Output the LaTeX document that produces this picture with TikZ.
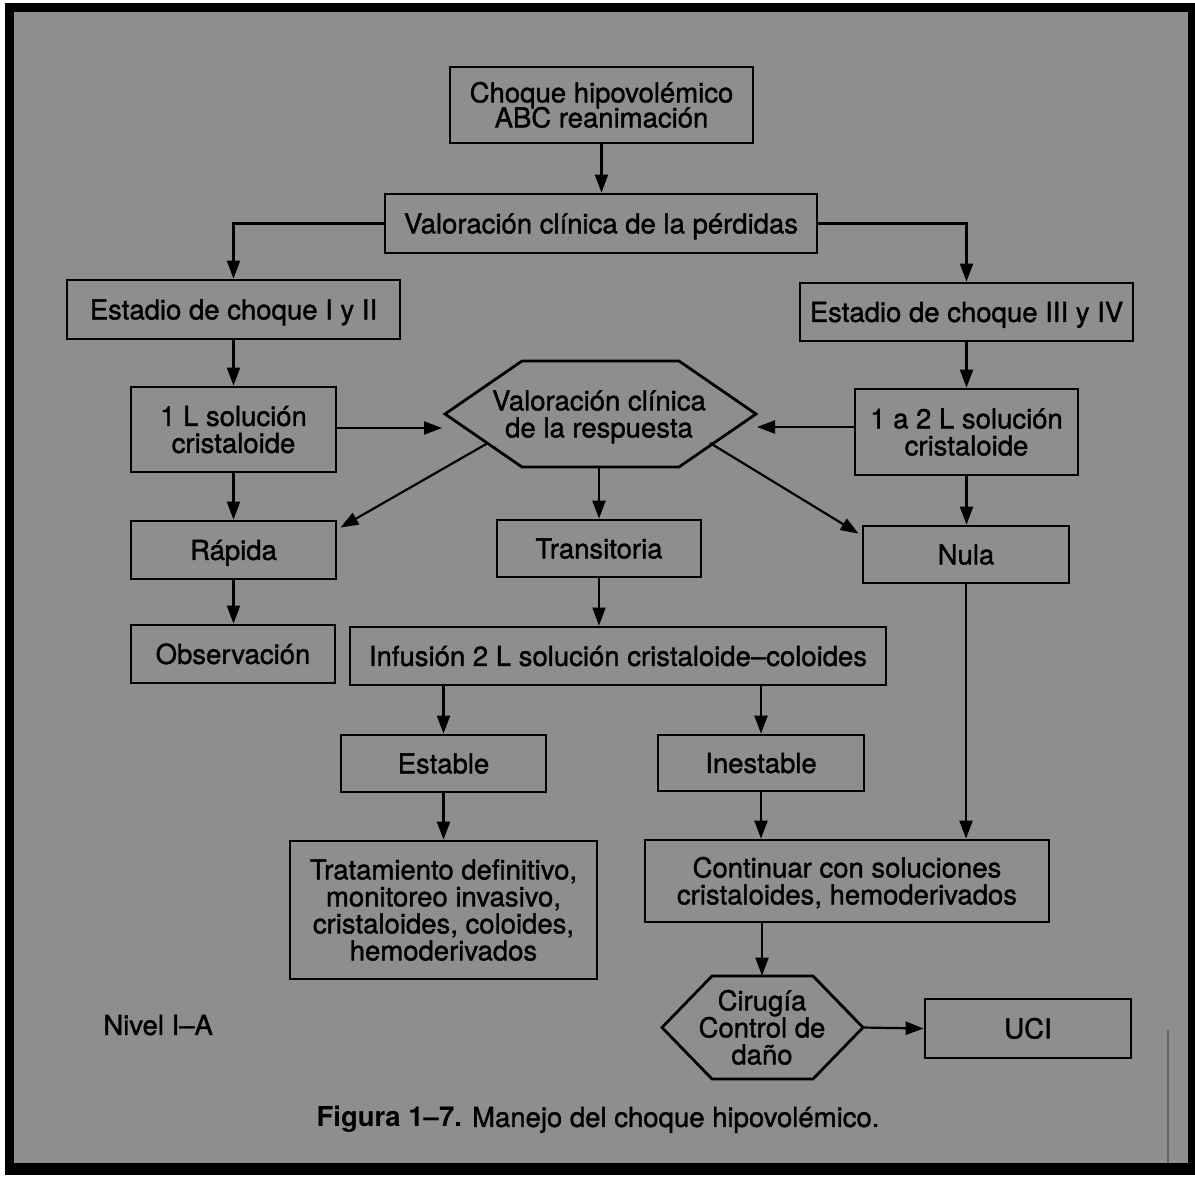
\documentclass[tikz,border=0pt]{standalone}
\usepackage{fontspec}
\setmainfont{TeX Gyre Heros}[UprightFeatures={FakeBold=1.3}]
\usetikzlibrary{arrows.meta}
\definecolor{paper}{RGB}{142,142,142}
\definecolor{edge}{RGB}{100,100,100}
\begin{document}
\begin{tikzpicture}[x=0.5pt,y=-0.5pt,
  every node/.style={font={\fontsize{13.75pt}{13.5pt}\selectfont\lineskiplimit=-20pt},
                     inner sep=0pt, text=black},
  box/.style={draw, line width=1.4pt, align=center},
  label/.style={align=center},
  single/.style={text height=9.9pt, text depth=0pt},
  twolines/.style={text height=23.4pt, text depth=0pt},
  threelines/.style={text height=36.9pt, text depth=0pt},
  fourlines/.style={text height=50.4pt, text depth=0pt},
  hexline/.style={line width=1.4pt, line join=miter},
  arr/.style={-{Triangle[length=9pt,width=6.5pt]}, line width=1.1pt},
  link/.style={line width=1.1pt}
]
% page, frame and background
\useasboundingbox (0,0) rectangle (1195,1177);
\fill[white] (0,0) rectangle (1195,1177);
\fill[black] (5,3) rectangle (1195,1175);
\fill[paper] (14,12) rectangle (1188,1163);
\draw[edge, line width=0.6pt] (1168,1030) -- (1168,1163);

% boxes
\node[box, text height=22.4pt, text depth=0pt, minimum width=151.5pt, minimum height=38pt,
      font={\fontsize{13.75pt}{12.5pt}\selectfont\lineskiplimit=-20pt}] (choque) at (601.5,105)
  {Choque hipovolémico\\ABC reanimación};
\node[box, single, minimum width=216pt, minimum height=29.5pt] (perd) at (601,223.5)
  {Valoración clínica de la pérdidas};
\node[box, single, minimum width=166.5pt, minimum height=29.5pt] (est12) at (233.5,309.5)
  {Estadio de choque I y II};
\node[box, single, minimum width=166.5pt, minimum height=29pt] (est34) at (966.5,312)
  {Estadio de choque III y IV};
\node[box, twolines, minimum width=102.5pt, minimum height=42.5pt] (uno) at (233.5,429.5)
  {1 L solución\\cristaloide};
\node[label, twolines, minimum width=154pt, minimum height=53pt] (resp) at (599,414)
  {Valoración clínica\\de la respuesta};
\draw[hexline] (resp.center) ++(-154,0) -- ++(77,-53) -- ++(157,0) -- ++(77,53)
  -- ++(-77,53) -- ++(-157,0) -- cycle;
\node[box, twolines, minimum width=111.5pt, minimum height=43pt] (dos) at (966.5,432)
  {1 a 2 L solución\\cristaloide};
\node[box, single, minimum width=102.5pt, minimum height=29pt] (rap) at (233.5,550) {Rápida};
\node[box, single, minimum width=102pt, minimum height=28.5pt] (trans) at (599,548.5) {Transitoria};
\node[box, single, minimum width=103pt, minimum height=28.5pt] (nula) at (966,554.5) {Nula};
\node[box, single, minimum width=102pt, minimum height=29pt] (obs) at (233,654) {Observación};
\node[box, single, minimum width=268pt, minimum height=29pt] (inf) at (618,656)
  {Infusión 2 L solución cristaloide–coloides};
\node[box, single, minimum width=102.5pt, minimum height=28.5pt] (estab) at (443.5,763.5) {Estable};
\node[box, single, minimum width=103pt, minimum height=28pt] (inest) at (761,763) {Inestable};
\node[box, fourlines, minimum width=153.5pt, minimum height=69pt] (trat) at (443.5,910)
  {Tratamiento definitivo,\\monitoreo invasivo,\\cristaloides, coloides,\\hemoderivados};
\node[box, twolines, minimum width=202pt, minimum height=41pt] (cont) at (847,881)
  {Continuar con soluciones\\cristaloides, hemoderivados};
\node[label, threelines, minimum width=100pt, minimum height=51.5pt] (cir) at (762,1027.5)
  {Cirugía\\Control de\\daño};
\draw[hexline] (cir.center) ++(-100,0) -- ++(50,-51.5) -- ++(101,0) -- ++(50,51.5)
  -- ++(-50,51.5) -- ++(-101,0) -- cycle;
\node[box, single, minimum width=103pt, minimum height=29.5pt] (uci) at (1028,1028.5) {UCI};

% free texts
\node[single, anchor=west] (nivel) at (103,1025) {Nivel I–A};
\node[single] (caption) at (598,1117) {\textbf{Figura 1–7.} Manejo del choque hipovolémico.};

% arrow ends near the response hexagon
\coordinate (respW) at (442,428);
\coordinate (respE) at (757,427);
\coordinate (respSW) at (488,443);
\coordinate (respSE) at (710,443);

% connectors
\draw[arr] (choque.south) -- (choque.south |- perd.north);
\draw[arr] (perd.west) -| (est12.north);
\draw[arr] (perd.east) -| (est34.north);
\draw[arr] (est12.south) -- (uno.north);
\draw[arr] (est34.south) -- (dos.north);
\draw[arr] (uno.east |- respW) -- (respW);
\draw[arr] (dos.west |- respE) -- (respE);
\draw[arr] (uno.south) -- (rap.north);
\draw[arr] (respSW) -- ([shift={(3,8)}]rap.north east);
\draw[arr] (resp.south) -- (trans.north);
\draw[arr] (respSE) -- ([shift={(-3,9)}]nula.north west);
\draw[arr] (dos.south) -- (dos.south |- nula.north);
\draw[arr] (rap.south) -- (rap.south |- obs.north);
\draw[arr] (trans.south) -- (trans.south |- inf.north);
\draw[arr] (estab.north |- inf.south) -- (estab.north);
\draw[arr] (inest.north |- inf.south) -- (inest.north);
\draw[arr] (estab.south) -- (trat.north);
\draw[arr] (inest.south) -- (inest.south |- cont.north);
\draw[arr] (nula.south) -- (nula.south |- cont.north);
\draw[arr] (cir.north |- cont.south) -- (cir.north);
\draw[arr] (cir.east) -- (uci.west);
\end{tikzpicture}
\end{document}
